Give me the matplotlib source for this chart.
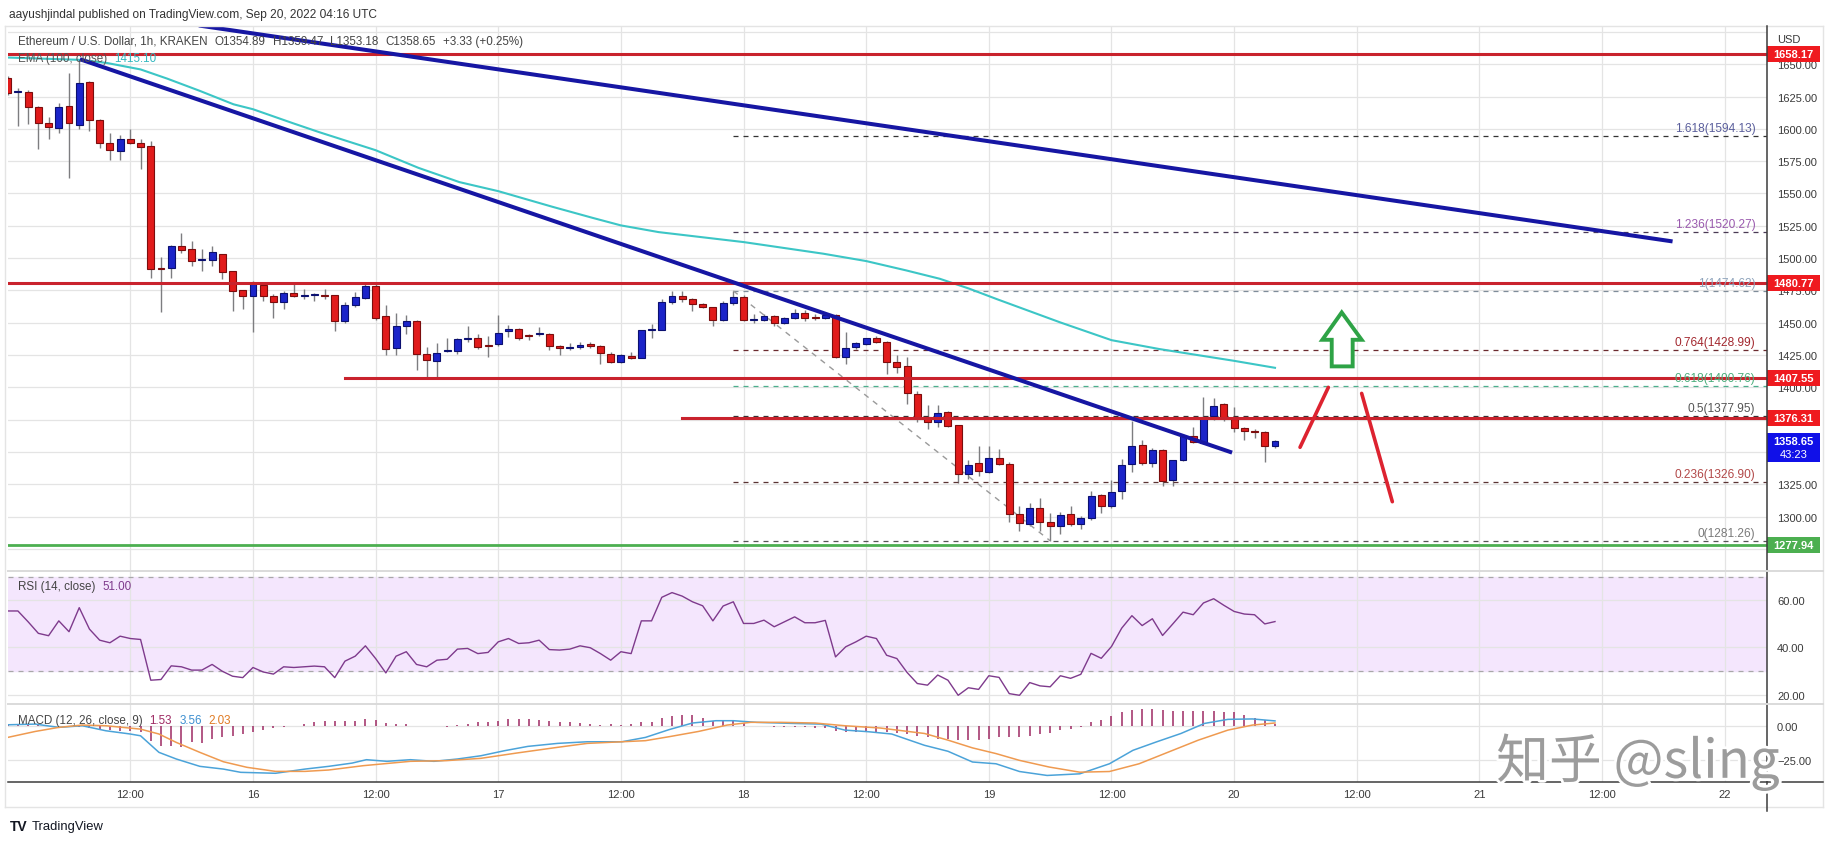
import matplotlib
matplotlib.use("Agg")
import matplotlib.pyplot as plt
import matplotlib.patches as mpatches
import matplotlib.patheffects as pe
from matplotlib import font_manager
from matplotlib.lines import Line2D
from matplotlib.transforms import blended_transform_factory
import numpy as np

# ---- ETH/USD 1h candles, Sep 15 00:00 .. Sep 20 04:00
opens = [
    1639.0, 1628.4, 1628.9, 1617.3, 1604.9, 1600.3, 1617.8, 1602.8, 1636.6, 1607.2,
    1588.7, 1583.0, 1592.5, 1589.0, 1587.1, 1492.2, 1492.0, 1509.0, 1506.9, 1498.2,
    1498.4, 1502.8, 1489.7, 1475.0, 1470.9, 1479.1, 1470.4, 1465.7, 1472.7, 1470.4,
    1471.3, 1471.5, 1471.1, 1451.3, 1463.4, 1469.0, 1478.4, 1454.9, 1430.4, 1447.2,
    1451.3, 1425.8, 1420.4, 1428.4, 1427.8, 1437.5, 1438.4, 1432.5, 1433.2, 1443.3,
    1445.4, 1440.2, 1441.0, 1441.2, 1432.2, 1430.6, 1431.5, 1433.5, 1432.0, 1425.8,
    1419.6, 1424.5, 1423.0, 1444.4, 1444.6, 1466.0, 1470.6, 1468.0, 1464.2, 1461.9,
    1451.8, 1464.9, 1469.8, 1452.2, 1451.8, 1455.2, 1450.0, 1453.9, 1457.5, 1453.8,
    1453.6, 1455.7, 1423.5, 1431.2, 1433.2, 1438.1, 1435.0, 1419.6, 1416.5, 1395.1,
    1377.1, 1373.2, 1380.9, 1370.6, 1333.2, 1341.8, 1334.8, 1345.1, 1341.0, 1302.3,
    1294.6, 1307.0, 1295.9, 1292.8, 1301.8, 1294.1, 1298.5, 1316.8, 1308.2, 1319.8,
    1340.5, 1355.4, 1341.8, 1351.5, 1328.4, 1343.8, 1362.4, 1356.7, 1378.1, 1386.9,
    1375.5, 1368.8, 1365.9, 1365.7, 1354.89,
]
highs = [
    1641.0, 1632.0, 1630.0, 1618.0, 1608.8, 1620.4, 1643.6, 1654.0, 1637.0, 1607.5,
    1597.0, 1595.0, 1600.0, 1592.0, 1590.7, 1500.5, 1510.0, 1519.8, 1513.1, 1507.0,
    1509.0, 1503.5, 1490.0, 1475.5, 1482.5, 1479.5, 1472.5, 1474.7, 1480.0, 1476.0,
    1473.0, 1476.0, 1471.5, 1466.0, 1473.7, 1481.4, 1480.0, 1463.9, 1457.7, 1456.2,
    1452.0, 1431.2, 1434.3, 1438.0, 1438.0, 1447.2, 1441.0, 1440.0, 1456.2, 1448.5,
    1446.0, 1441.5, 1446.6, 1442.0, 1433.0, 1434.3, 1435.4, 1434.8, 1433.0, 1427.0,
    1425.5, 1427.3, 1444.6, 1449.2, 1468.6, 1474.2, 1474.2, 1469.0, 1465.0, 1462.5,
    1467.0, 1474.6, 1471.1, 1456.5, 1457.0, 1456.0, 1454.5, 1460.3, 1459.5, 1457.0,
    1457.5, 1457.0, 1442.5, 1435.0, 1438.5, 1440.0, 1435.5, 1424.7, 1423.5, 1396.9,
    1386.6, 1386.1, 1382.0, 1371.0, 1343.6, 1354.6, 1354.6, 1352.0, 1342.0, 1308.2,
    1310.8, 1314.2, 1303.1, 1303.9, 1308.2, 1300.5, 1319.8, 1317.5, 1328.0, 1344.3,
    1374.0, 1359.3, 1352.8, 1352.0, 1344.0, 1363.7, 1369.6, 1392.3, 1391.5, 1387.5,
    1385.0, 1369.5, 1368.0, 1366.0, 1359.47,
]
lows = [
    1626.0, 1602.0, 1603.6, 1584.3, 1592.0, 1597.0, 1561.6, 1600.0, 1598.5, 1585.3,
    1576.0, 1576.0, 1588.0, 1568.8, 1484.8, 1458.5, 1484.3, 1503.9, 1493.6, 1490.0,
    1494.0, 1483.8, 1459.3, 1460.6, 1443.0, 1466.5, 1454.0, 1460.6, 1470.0, 1468.0,
    1467.0, 1468.0, 1443.3, 1450.0, 1462.0, 1468.0, 1452.0, 1424.7, 1424.7, 1441.5,
    1413.1, 1408.0, 1408.0, 1427.0, 1426.0, 1435.0, 1430.0, 1423.5, 1432.0, 1439.0,
    1436.3, 1437.0, 1439.5, 1428.6, 1425.3, 1428.6, 1430.0, 1430.2, 1418.3, 1419.0,
    1419.0, 1421.6, 1422.7, 1438.1, 1444.0, 1464.7, 1466.0, 1458.8, 1461.0, 1447.4,
    1451.0, 1464.0, 1451.5, 1449.7, 1451.0, 1447.2, 1449.0, 1453.0, 1451.0, 1451.8,
    1453.0, 1423.0, 1418.3, 1430.0, 1432.5, 1434.5, 1410.6, 1411.4, 1387.4, 1373.2,
    1368.0, 1369.3, 1369.0, 1326.3, 1328.9, 1331.4, 1334.0, 1340.0, 1296.1, 1288.9,
    1292.8, 1288.9, 1281.3, 1286.3, 1293.0, 1290.2, 1297.5, 1303.1, 1307.0, 1313.4,
    1334.8, 1340.0, 1338.0, 1324.0, 1324.0, 1343.0, 1356.7, 1356.0, 1374.7, 1374.0,
    1365.7, 1359.3, 1360.5, 1342.5, 1353.18,
]
closes = [
    1628.0, 1628.8, 1617.3, 1604.9, 1601.5, 1617.0, 1604.9, 1635.8, 1607.0, 1588.7,
    1583.8, 1592.5, 1588.7, 1586.3, 1491.5, 1491.8, 1509.5, 1506.4, 1497.9, 1498.5,
    1504.4, 1488.9, 1474.2, 1470.9, 1479.9, 1470.4, 1465.7, 1472.7, 1470.4, 1471.5,
    1471.6, 1470.6, 1451.3, 1463.4, 1469.8, 1478.4, 1453.6, 1429.9, 1447.2, 1451.3,
    1425.8, 1421.4, 1426.8, 1428.8, 1437.1, 1438.4, 1431.2, 1432.0, 1442.0, 1445.4,
    1438.4, 1439.7, 1441.3, 1432.0, 1430.4, 1431.0, 1432.8, 1431.7, 1426.5, 1419.6,
    1425.2, 1423.0, 1444.1, 1444.8, 1466.0, 1470.4, 1468.0, 1464.2, 1461.9, 1451.8,
    1465.2, 1469.8, 1451.8, 1452.6, 1455.2, 1449.7, 1453.9, 1457.5, 1453.6, 1453.4,
    1456.2, 1423.5, 1430.4, 1434.3, 1438.1, 1435.0, 1419.6, 1415.7, 1395.6, 1376.3,
    1373.2, 1380.2, 1370.1, 1333.2, 1340.0, 1335.3, 1345.1, 1341.0, 1301.8, 1294.8,
    1307.0, 1296.1, 1292.8, 1301.3, 1294.1, 1298.5, 1316.0, 1308.2, 1319.1, 1340.0,
    1354.6, 1341.8, 1351.5, 1327.6, 1343.8, 1362.4, 1357.5, 1376.8, 1385.8, 1376.5,
    1368.8, 1366.5, 1365.7, 1354.9, 1358.65,
]

# EMA(100) read at sample hours
ema_hours = [0, 7.1, 9.7, 13, 15.6, 18.8, 22.1, 24, 27.9, 30.5, 36, 40.2, 44.2, 48,
             53.3, 57.2, 60, 63.7, 72, 79.8, 84, 87.9, 91.2, 94.1, 96.8, 103, 108,
             112.7, 120, 124]
ema_values = [1655.2, 1653.4, 1651.0, 1646.0, 1638.9, 1629.4, 1619.0, 1615.2, 1604.4,
              1597.4, 1583.5, 1569.8, 1558.8, 1551.8, 1539.7, 1531.2, 1525.3, 1520.1,
              1512.4, 1503.4, 1497.7, 1490.5, 1484.0, 1476.3, 1468.2, 1450.2, 1436.5,
              1429.6, 1420.5, 1415.1]

# RSI(14), one value per candle
rsi = [
    55.5, 55.5, 50.9, 46.0, 45.0, 51.3, 46.7, 56.9, 47.8, 43.1,
    42.0, 44.8, 43.8, 43.4, 26.1, 26.4, 32.2, 31.8, 30.4, 30.4,
    32.8, 29.9, 27.8, 27.2, 31.5, 29.6, 28.7, 31.8, 31.5, 31.8,
    32.1, 31.8, 27.2, 34.2, 36.3, 40.7, 35.3, 29.2, 36.3, 38.2,
    32.8, 31.8, 34.6, 35.0, 39.3, 39.6, 37.4, 37.9, 42.4, 43.8,
    41.7, 42.0, 43.1, 39.1, 38.9, 39.3, 40.7, 39.9, 37.4, 34.6,
    38.2, 37.4, 51.3, 51.3, 61.3, 63.3, 61.8, 59.4, 57.7, 51.3,
    57.6, 59.4, 50.2, 50.2, 51.6, 48.8, 50.9, 53.0, 50.5, 50.5,
    51.5, 36.0, 40.3, 42.4, 44.8, 43.8, 36.7, 35.3, 29.4, 24.7,
    24.0, 28.3, 26.1, 19.7, 22.9, 22.2, 28.0, 27.3, 20.4, 19.7,
    25.1, 23.7, 23.3, 28.0, 26.9, 28.6, 37.5, 35.4, 40.4, 48.2,
    53.5, 49.3, 52.2, 45.1, 50.0, 55.0, 53.9, 58.9, 60.7, 57.9,
    55.3, 54.2, 53.9, 50.0, 51.0,
]

# MACD(12, 26, 9): histogram per candle, lines read at sample hours
macd_hist = [
    0.8, 1.0, 0.6, 0.3, 0.0, -0.5, -0.4, -1.0, -1.5, -2.5,
    -3.0, -3.7, -3.7, -4.9, -11.0, -14.7, -15.2, -15.9, -11.8, -13.0,
    -9.8, -8.6, -7.4, -6.1, -4.4, -2.9, -2.0, -0.7, 0.0, 1.2,
    2.5, 3.2, 3.2, 3.2, 3.7, 4.9, 4.2, 2.0, 1.5, 1.2,
    -0.5, -0.5, -0.5, -0.7, 0.2, 1.2, 2.5, 2.9, 3.7, 4.9,
    4.9, 4.9, 4.4, 3.7, 2.9, 2.5, 2.0, 1.5, 0.7, 1.0,
    0.7, 1.2, 2.5, 2.9, 5.4, 7.4, 7.8, 7.8, 5.6, 3.7,
    3.7, 4.4, 1.7, -0.5, -0.5, -1.2, -1.2, -1.2, -1.2, -2.0,
    -2.0, -3.7, -4.4, -4.4, -4.4, -4.4, -4.9, -5.4, -6.1, -7.4,
    -8.2, -9.4, -9.4, -10.6, -10.6, -10.6, -9.4, -8.2, -8.2, -8.2,
    -7.4, -6.4, -5.7, -3.2, -2.5, -0.7, 3.0, 4.2, 7.4, 9.9,
    11.6, 12.1, 12.4, 11.6, 10.9, 10.9, 10.9, 11.1, 10.9, 10.4,
    9.9, 7.9, 5.9, 4.2, 1.53,
]
macd_hours = [0, 2.7, 5.0, 7.3, 9.6, 12.0, 13.0, 14.8, 16.5, 18.8, 21.1, 22.8, 26.2,
              29.1, 31.4, 33.7, 35.1, 37.1, 39.4, 41.7, 44.0, 46.3, 48.6, 50.9, 53.8,
              56.7, 60.1, 62.4, 64.7, 67.0, 69.3, 71.0, 73.3, 76.8, 79.6, 81.9, 84.2,
              86.5, 88.0, 89.7, 92.0, 94.4, 96.7, 99.0, 101.7, 104.9, 107.8, 110.1,
              112.4, 114.8, 117.1, 119.4, 121.8, 124]
macd_values = [0.7, 1.2, -1.2, 0.0, -3.7, -6.1, -7.4, -19.6, -24.5, -29.9, -31.9,
               -34.3, -35.0, -31.9, -29.9, -27.5, -25.0, -26.2, -25.0, -26.2, -24.5,
               -22.1, -18.4, -15.2, -13.0, -11.8, -11.8, -8.6, -2.9, 2.0, 3.7, 3.7,
               2.5, 1.7, 1.2, -3.2, -4.4, -6.1, -10.0, -14.4, -18.8, -26.7, -28.0,
               -33.7, -36.6, -35.4, -28.0, -18.1, -11.9, -5.7, 1.7, 4.7, 5.0, 3.56]
signal_hours = [0, 2.7, 5.0, 7.3, 9.6, 13.0, 14.8, 16.5, 18.8, 21.1, 23.4, 26.2, 29.1,
                31.4, 34.8, 39.4, 42.9, 46.3, 49.8, 53.8, 56.7, 60.1, 62.4, 64.7, 67.6,
                70.4, 72.7, 75.6, 79.0, 81.9, 85.4, 89.7, 92.0, 94.4, 96.7, 99.0, 101.9,
                104.9, 107.8, 110.7, 113.6, 116.5, 119.4, 121.8, 124]
signal_values = [-8.6, -4.2, -1.2, 0.5, 0.0, -2.5, -6.1, -12.3, -19.6, -26.5, -30.6,
                 -33.6, -33.6, -32.6, -29.4, -26.2, -25.7, -24.0, -20.1, -15.9, -13.0,
                 -11.8, -11.0, -8.1, -4.2, 0.5, 2.5, 2.5, 2.0, 0.0, -1.7, -5.7, -10.6,
                 -16.3, -20.5, -25.5, -30.4, -34.2, -33.7, -28.0, -19.3, -10.6, -3.2,
                 0.5, 2.03]

# Fibonacci extension levels
fib_ratios = ["1.618", "1.236", "1", "0.764", "0.618", "0.5", "0.236", "0"]
fib_prices = [1594.13, 1520.27, 1474.62, 1428.99, 1400.76, 1377.95, 1326.90, 1281.26]

# horizontal support / resistance levels
red_levels = [1658.17, 1480.77, 1407.55, 1376.31]
green_level = 1277.94
last_price = 1358.65

# time axis labels (hours from Sep 15 00:00)
tick_hours = [12, 24, 36, 48, 60, 72, 84, 96, 108, 120, 132, 144, 156, 168]
tick_labels = ["12:00", "16", "12:00", "17", "12:00", "18", "12:00", "19",
               "12:00", "20", "12:00", "21", "12:00", "22"]

W, H = 1834, 845
LEFT, RIGHT = 8, 1767
T0, T1 = 0.03, 172.14

names = {f.name for f in font_manager.fontManager.ttflist}
UI = "Liberation Sans Narrow" if "Liberation Sans Narrow" in names else "Liberation Sans"
plt.rcParams["font.family"] = [UI, "DejaVu Sans"]

GRID = "#e4e4e4"
TXT = "#3a3a3a"
LEG = 8.4


def axes_rect(top, bottom):
    return [LEFT / W, 1 - bottom / H, (RIGHT - LEFT) / W, (bottom - top) / H]


def fxy(px, py):
    return px / W, 1 - py / H


def style_panel(ax, ylim, yticks, ylabels):
    ax.set_xlim(T0, T1)
    ax.set_ylim(*ylim)
    ax.set_xticks(tick_hours)
    ax.set_yticks(yticks)
    ax.set_yticklabels(ylabels)
    ax.yaxis.tick_right()
    ax.tick_params(axis="y", length=0, pad=7.2, labelsize=8.0, labelcolor=TXT)
    ax.tick_params(axis="x", length=0, labelbottom=False)
    ax.grid(True, color=GRID, lw=0.9)
    ax.set_axisbelow(True)
    for s in ax.spines.values():
        s.set_visible(False)


def price_box(ax, price, text, color, h=6.2, extra_below=0.0):
    tr = blended_transform_factory(ax.transAxes, ax.transData)
    bw = 53 / (RIGHT - LEFT)
    rect = mpatches.Rectangle((1.0, price - h - extra_below), bw, 2 * h + extra_below,
                              transform=tr, facecolor=color, edgecolor="none",
                              clip_on=False, zorder=6)
    ax.add_patch(rect)
    if text:
        ax.text(1.0 + bw / 2, price, text, transform=tr, ha="center", va="center",
                color="white", fontsize=8.0, fontweight="bold", clip_on=False, zorder=7)


def legend_row(fig, renderer, px, py, parts, gap=7):
    # parts: list of (text, colour); each piece starts after the previous one
    x = px
    for s, col in parts:
        t = fig.text(*fxy(x, py), s, fontsize=LEG, color=col, va="center",
                     ha="left", zorder=9)
        bb = t.get_window_extent(renderer)
        x = bb.x1 + gap


def main():
    fig = plt.figure(figsize=(W / 100, H / 100), dpi=100)
    fig.patch.set_facecolor("white")
    renderer = fig.canvas.get_renderer()

    ax = fig.add_axes(axes_rect(27, 571.7))
    ax_rsi = fig.add_axes(axes_rect(571.7, 705))
    ax_macd = fig.add_axes(axes_rect(705, 782.7))

    price_ticks = list(range(1275, 1700, 25))
    hidden = (1275, 1350, 1375, 1675)
    price_labels = ["" if p in hidden else f"{p:.2f}" for p in price_ticks]
    style_panel(ax, (1258.1, 1679.6), price_ticks, price_labels)
    style_panel(ax_rsi, (16.0, 72.6), [20, 40, 60], ["20.00", "40.00", "60.00"])
    style_panel(ax_macd, (-41.2, 16.0), [-25, 0], ["\u221225.00", "0.00"])

    # x labels under the MACD pane
    ax_macd.tick_params(axis="x", labelbottom=True, labelsize=8.0, labelcolor=TXT, pad=5)
    ax_macd.set_xticklabels(tick_labels)

    hours = np.arange(len(opens))
    o = np.array(opens)
    c = np.array(closes)
    up = c >= o

    # candles
    ax.vlines(hours, lows, highs, color="#7d7d80", lw=1.0, zorder=3)
    body_lo = np.minimum(o, c)
    body_h = np.maximum(np.abs(c - o), 0.8)
    ax.bar(hours[up], body_h[up], bottom=body_lo[up], width=0.68,
           color="#1b24c9", edgecolor="#0b1070", lw=0.8, zorder=4)
    ax.bar(hours[~up], body_h[~up], bottom=body_lo[~up], width=0.68,
           color="#e11b1b", edgecolor="#7c0d0d", lw=0.8, zorder=4)

    # EMA 100
    ax.plot(ema_hours, ema_values, color="#3cc6c6", lw=1.5, zorder=5)

    # trend lines
    ax.plot([18.7, 162.9], [1680.0, 1512.9], color="#1616a3", lw=2.9,
            solid_capstyle="butt", zorder=6)
    ax.plot([7.07, 119.8], [1653.9, 1349.5], color="#1616a3", lw=2.9,
            solid_capstyle="butt", zorder=6)

    # horizontal levels
    starts = {1658.17: T0, 1480.77: T0, 1407.55: 33.0, 1376.31: 66.0}
    for lv in red_levels:
        ax.plot([starts[lv], T1], [lv, lv], color="#c9232d", lw=2.2, zorder=5)
    ax.plot([T0, T1], [green_level, green_level], color="#4caf50", lw=2.0, zorder=5)

    # fib extension
    fib_colors = ["#5a5e9c", "#9a5aae", "#8ea3bb", "#a3282f", "#4cae7c",
                  "#555555", "#b24848", "#7a7a7a"]
    fib_line = ["#333333", "#4a3a55", "#7f8c99", "#6b2a2e", "#4cae8c",
                "#333333", "#5a3333", "#555555"]
    for r, p, tc, lc in zip(fib_ratios, fib_prices, fib_colors, fib_line):
        ax.plot([71.0, T1], [p, p], color=lc, lw=0.9, ls=(0, (4, 4)), zorder=3)
        ax.text(171.0, p + 1.6, f"{r}({p:.2f})", ha="right", va="bottom",
                fontsize=8.6, color=tc, zorder=6)
    ax.plot([71.0, 102.0], [1474.62, 1281.26], color="#9a9a9a", lw=1.0,
            ls=(0, (4, 4)), zorder=3)

    # hand drawn arrows
    ax.plot([126.45, 129.22], [1353.6, 1399.96], color="#dd2330", lw=2.6,
            solid_capstyle="round", zorder=7)
    ax.plot([132.48, 135.48], [1395.3, 1311.5], color="#dd2330", lw=2.6,
            solid_capstyle="round", zorder=7)
    arrow = [(130.53, 1457.96), (132.48, 1436.78), (131.6, 1436.78), (131.6, 1416.2),
             (129.55, 1416.2), (129.55, 1436.78), (128.63, 1436.78)]
    ax.add_patch(mpatches.Polygon(arrow, closed=True, facecolor="white",
                                  edgecolor="#2ea346", lw=2.8, joinstyle="miter",
                                  zorder=7))

    # price boxes on the right scale
    for lv in red_levels:
        price_box(ax, lv, f"{lv:.2f}", "#ef1a1f")
    price_box(ax, green_level, f"{green_level:.2f}", "#4caf50")
    price_box(ax, last_price, "", "#1010e8", h=6.0, extra_below=10.5)
    tr = blended_transform_factory(ax.transAxes, ax.transData)
    bx = 1.0 + 26.5 / (RIGHT - LEFT)
    ax.text(bx, last_price, f"{last_price:.2f}", transform=tr, ha="center",
            va="center", color="white", fontsize=8.0, fontweight="bold",
            clip_on=False, zorder=8)
    ax.text(bx, last_price - 10.0, "43:23", transform=tr, ha="center", va="center",
            color="white", fontsize=8.0, clip_on=False, zorder=8)

    # RSI pane
    ax_rsi.axhspan(30, 70, color="#f4e6fd", zorder=0)
    for lv in (30, 70):
        ax_rsi.axhline(lv, color="#a8a8a8", lw=0.9, ls=(0, (4, 4)), zorder=1)
    ax_rsi.plot(hours, rsi, color="#7e3a8c", lw=1.0, zorder=4)

    # MACD pane
    ax_macd.vlines(hours, 0, macd_hist, color="#9e2a63", lw=1.1, zorder=3)
    ax_macd.plot(macd_hours, macd_values, color="#4ba3d9", lw=1.1, zorder=4)
    ax_macd.plot(signal_hours, signal_values, color="#ef9a50", lw=1.1, zorder=4)

    # frame lines
    x5, x1823 = fxy(5, 0)[0], fxy(1823, 0)[0]
    y27, y808 = fxy(0, 27)[1], fxy(0, 808)[1]
    for xs, ys in [([x5, x1823], [y27, y27]), ([x1823, x1823], [y27, y808]),
                   ([x5, x1823], [y808, y808]), ([x5, x5], [y27, y808])]:
        fig.add_artist(Line2D(xs, ys, color="#e4e4e4", lw=1.0))
    fig.add_artist(Line2D([fxy(LEFT, 0)[0], x1823], [fxy(0, 782.7)[1]] * 2,
                          color="#3c3c3c", lw=1.1))
    fig.add_artist(Line2D([fxy(RIGHT, 0)[0]] * 2, [y27, fxy(0, 812)[1]],
                          color="#3c3c3c", lw=1.1))
    for yy in (571.7, 705):
        fig.add_artist(Line2D([fxy(LEFT, 0)[0], x1823], [fxy(0, yy)[1]] * 2,
                              color="#dadada", lw=1.4))

    # texts
    fig.text(*fxy(9, 15), "aayushjindal published on TradingView.com, Sep 20, 2022 04:16 UTC",
             fontsize=8.6, color="#333333", va="center", ha="left")
    legend_row(fig, renderer, 18, 42, [
        ("Ethereum / U.S. Dollar, 1h, KRAKEN", "#444444"),
        ("O1354.89", "#444444"), ("H1359.47", "#444444"), ("L1353.18", "#444444"),
        ("C1358.65", "#444444"), ("+3.33 (+0.25%)", "#444444")])
    legend_row(fig, renderer, 18, 59, [("EMA (100, close)", "#555555"),
                                       ("1415.10", "#35b8c0")])
    fig.text(*fxy(1777, 40), "USD", fontsize=8.0, color=TXT, va="center", ha="left")
    legend_row(fig, renderer, 18, 587, [("RSI (14, close)", "#444444"),
                                        ("51.00", "#7e3a8c")])
    legend_row(fig, renderer, 18, 721, [("MACD (12, 26, close, 9)", "#444444"),
                                        ("1.53", "#9e2a63"), ("3.56", "#3d8fd0"),
                                        ("2.03", "#e07b24")])

    # logo line
    fig.text(*fxy(10, 827), "TV", fontsize=10, fontweight="heavy", color="#131722",
             va="center", ha="left")
    fig.text(*fxy(32, 827), "TradingView", fontsize=9.4, color="#131722",
             va="center", ha="left")

    # watermark
    fig.text(*fxy(1638, 763), "知乎 @sling", fontsize=38, color="#9c9c9c",
             family=["Noto Sans CJK SC", "DejaVu Sans"], ha="center", va="center",
             path_effects=[pe.withStroke(linewidth=4, foreground="white")], zorder=20)

    fig.savefig("out.png", dpi=100)
    plt.close(fig)


if __name__ == "__main__":
    main()
